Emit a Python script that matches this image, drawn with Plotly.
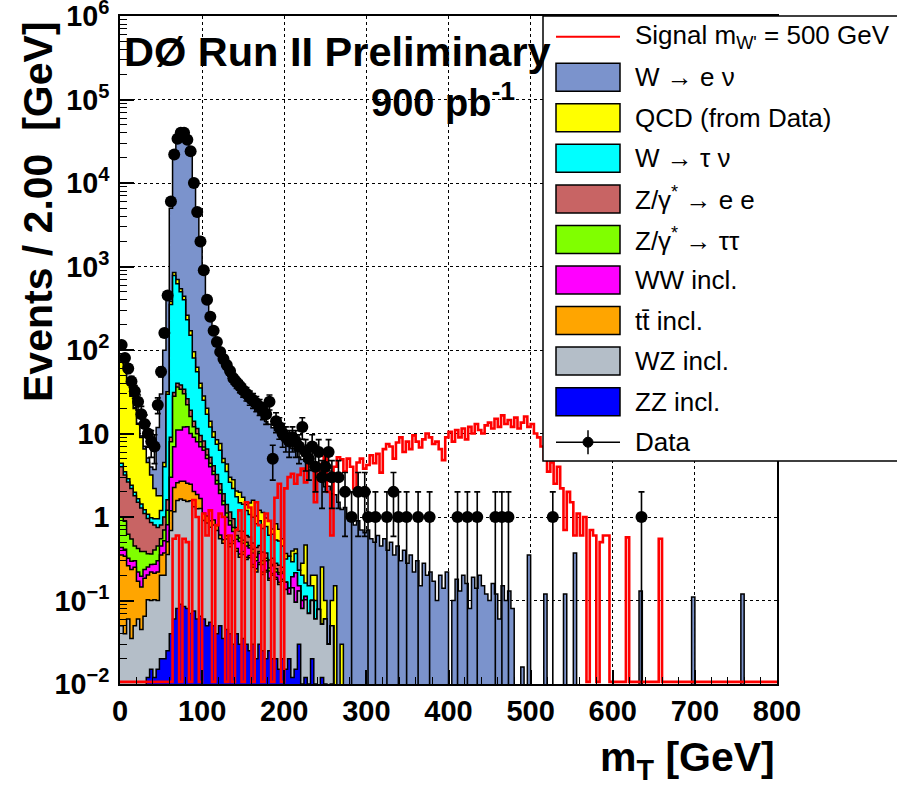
import numpy as np
import plotly.graph_objects as go

# ---------------- data (per 4 GeV bin, values on the "Events / 2 GeV" scale) ----------------
BIN = 4.0
NBINS = 200  # 0 .. 800 GeV

zz = [0, 0, 0, 0, 0, 0, 0, 0, 0.012, 0.015,
      0.012, 0.015, 0.02, 0.02, 0.025, 0.04, 0.06, 0.08, 0.09, 0.085,
      0.08, 0.07, 0.075, 0.06, 0.065, 0.06, 0.05, 0.055, 0.05, 0.04,
      0.05, 0.035, 0.045, 0.04, 0.03, 0.04, 0.03, 0.035, 0.03, 0.025,
      0.03, 0.02, 0.03, 0.025, 0.02, 0.025, 0.02, 0.02, 0.015, 0.02,
      0.015, 0.02, 0.012, 0.015, 0.03, 0.01, 0.012, 0.01, 0.02, 0.01,
      0.008, 0.012, 0.01, 0, 0.01]

wz = [0.05, 0.04, 0.06, 0.035, 0.05, 0.06, 0.045, 0.065, 0.09, 0.085,
      0.09, 0.085, 0.18, 0.18, 0.33, 0.65, 1.1, 1.5, 1.55, 1.5,
      1.45, 1.5, 1.25, 1.2, 1.2, 0.85, 0.8, 0.7, 0.75, 0.65,
      0.5, 0.45, 0.5, 0.4, 0.45, 0.35, 0.3, 0.32, 0.28, 0.3,
      0.22, 0.2, 0.24, 0.18, 0.2, 0.15, 0.18, 0.16, 0.14, 0.15,
      0.12, 0.1, 0.13, 0.08, 0.1, 0.07, 0.09, 0.06, 0.08, 0.05,
      0.07, 0.04, 0.05, 0.03, 0.04]

ttbar = [0.3, 0.3, 0.2, 0.2, 0.2, 0.11, 0.1, 0.12, 0.1, 0.12,
         0.11, 0.12, 0.15, 0.17, 0.15, 0.5, 1.1, 1.0, 1.05, 1.1,
         1.0, 0.9, 0.7, 0.6, 0.4, 0.2, 0.18, 0.15, 0.12, 0.1,
         0.06, 0.05, 0.05, 0.04, 0.04, 0.03, 0.03, 0.03, 0.02, 0.02,
         0.02, 0.02, 0.015, 0.015, 0.01, 0.01, 0.01, 0.01, 0.01, 0.01]

ww = [0.08, 0.07, 0.06, 0.06, 0.05, 0.05, 0.05, 0.05, 0.05, 0.05,
      0.06, 0.08, 0.1, 0.15, 0.3, 1.8, 4.7, 8.4, 8.3, 9.3,
      9.5, 7.5, 7.0, 6.1, 5.3, 5.2, 4.0, 3.1, 2.3, 1.7,
      1.3, 0.87, 0.4, 0.32, 0.15, 0.12, 0.15, 0.1, 0.12, 0.08,
      0.1, 0.06, 0.08, 0.05, 0.07, 0.04, 0.05, 0.03, 0.04, 0.03,
      0.03, 0.02, 0.05, 0.12, 0.02, 0.02, 0.01]

ztautau = [0.57, 0.48, 0.3, 0.25, 0.15, 0.2, 0.19, 0.15, 0.11, 0.09,
           0.13, 0.15, 0.1, 0.18, 0.4, 5, 21, 25, 23, 18,
           10, 6, 3, 2, 1, 0.6, 0.5, 0.4, 0.3, 0.25,
           0.2, 0.15, 0.12, 0.1, 0.08, 0.06, 0.05, 0.04, 0.05, 0.03,
           0.04, 0.03, 0.02, 0.03, 0.02, 0.02, 0.01, 0.02, 0.01, 0.01]

zee = [3.0, 2.3, 2.0, 1.65, 1.35, 1.08, 0.9, 0.72, 0.6, 0.5,
       0.4, 0.3, 0.25, 0.3, 0.4, 1.0, 3, 4, 4, 4,
       4, 3, 2, 1.5, 1.5, 1.2, 1.0, 0.8, 0.6, 0.5,
       0.4, 0.35, 0.3, 0.25, 0.2, 0.15, 0.12, 0.15, 0.1, 0.12,
       0.08, 0.1, 0.07, 0.08, 0.05, 0.06, 0.05, 0.04, 0.05, 0.03]

wtaunu = [0.4, 0.3, 0.25, 0.2, 0.18, 0.15, 0.15, 0.12, 0.12, 0.12,
          0.15, 0.2, 0.4, 3, 28, 341, 749, 580, 462, 366,
          204, 131, 66, 43.5, 25.5, 17, 10.5, 6.8, 4.9, 4.2,
          3.8, 2.6, 2.1, 1.45, 1.25, 1.0, 0.8, 0.75, 0.6, 0.5,
          0.5, 0.4, 0.45, 0.35, 0.4, 0.3, 0.3, 0.25, 0.25, 0.2,
          0.15, 0.2, 0.1, 0.15, 0.08, 0.1, 0.05, 0.08, 0.05, 0.04]

qcd = [75, 56, 42, 25.6, 18, 11.3, 7.5, 5.3, 3.4, 2.2,
       1.25, 0.85, 0.6, 0.5, 2, 30, 70, 80, 40, 40,
       30, 20, 15, 7, 5, 3, 3, 2, 1.5, 1,
       1.3, 0.5, 0.8, 0.4, 0.6, 0.3, 0.5, 0.3, 0.2, 0.4,
       0.6, 0.2, 0.3, 0.4, 0.2, 0.3, 0.1, 0.3, 0.2, 0.1,
       0.05, 0, 0.1, 0.05, 0, 0.08, 0.3, 0, 0.05, 0.1,
       0, 0.2, 0.04, 0, 0.05, 0.15, 0, 0.03]

wenu = [0.3, 0.3, 0.3, 0.3, 0.3, 0.3, 0.4, 0.5, 0.6, 0.8,
        1.5, 10, 28, 95, 390, 4600, 21000, 31300, 36000, 36500,
        32700, 22800, 9400, 3940, 1760, 822, 360, 216, 144, 106,
        80, 67, 56, 48, 40, 34.5, 31, 27, 24.5, 21.5,
        19.5, 17.5, 15.5, 14, 13, 12, 11, 10, 9, 8.3,
        7.5, 7.0, 6.2, 5.8, 5.0, 4.6, 4.2, 3.5, 3.4, 3.0,
        2.8, 2.4, 2.2, 2.3, 1.8, 1.7, 1.5, 1.2, 1.3, 1.0,
        1.1, 0.8, 0.9, 0.7, 0.65, 0.7, 0.55, 0.5, 0.6, 0.45,
        0.55, 0.4, 0.5, 0.35, 0.45, 0.3, 0.4, 0.28, 0.35, 0.22,
        0.3, 0.15, 0.28, 0.2, 0.22, 0.17, 0.1, 0.2, 0.14, 0.22,
        0, 0.1, 0.18, 0.13, 0.2, 0.16, 0.08, 0.19, 0.14, 0.2,
        0.15, 0.12, 0.1, 0.16, 0.12, 0.06, 0.15, 0.1, 0.13, 0.08]
wenu_sparse_mt = [490, 498, 518, 542, 554, 634, 698, 758]
wenu_sparse_val = [0.016, 0.35, 0.12, 0.12, 0.37, 0.13, 0.11, 0.12]

signal = [0, 0, 0, 0, 0, 0, 0, 0, 0, 0,
          0, 0, 0, 0, 0, 0, 0.55, 0.6, 0, 0.55,
          0.5, 0, 1.6, 1.0, 0, 1.1, 0.6, 1.2, 0, 0.8,
          1.1, 1.0, 0, 0.6, 0, 0.7, 1.2, 0, 1.5, 1.3,
          0, 1.5, 0.8, 0, 1.1, 0.9, 0, 1.7, 2.5, 0,
          2.2, 3.0, 3.3, 2.5, 3.2, 3.8, 2.6, 4.5, 4.0, 1.5,
          4.3, 3.0, 5.3, 2.0, 0.6, 4.0, 5.2, 4.9, 3.5, 5.0,
          4.0, 2.2, 4.5, 5.0, 3.8, 4.2, 5.5, 4.4, 5.7, 3.4,
          6.5, 7.5, 7.0, 5.0, 7.8, 9.0, 6.0, 8.0, 6.5, 9.5,
          8.0, 6.8, 8.5, 10.0, 9.0, 7.5, 8.0, 6.5, 4.8, 9.0,
          10.5, 8.0, 11.0, 9.0, 11.5, 8.5, 12.0, 10.0, 13.0, 11.0,
          10.0, 12.5, 13.5, 11.5, 15.0, 12.0, 16.5, 13.0, 14.5, 12.0,
          15.5, 11.5, 13.5, 16.0, 12.0, 13.0, 10.0, 9.0, 7.0, 5.0,
          3.5, 4.5, 2.5, 4.0, 2.2, 0.7, 2.0, 1.5, 0.6, 1.1,
          0.6, 1.0, 0, 0.7, 0.6, 0, 0.5, 0.6, 0.6, 0,
          0, 0, 0, 0, 0.57, 0, 0, 0, 0, 0,
          0, 0, 0, 0, 0.55]

data_dense = [115, 80, 60, 42, 32, 24, 17, 13, 10, 8,
              7, 22, 55, 160, 450, 6000, 22000, 34000, 40000, 40000,
              33000, 24000, 10000, 4500, 2000, 900, 400, 250, 170, 125,
              95, 78, 66, 56, 46, 41, 37, 33, 30, 27,
              25, 23, 21, 19, 17, 24, 5, 14, 12, 10,
              9, 8, 9, 8, 7, 12, 6, 5, 7, 4,
              6, 3, 4, 6, 3]
data_sparse_mt = [266, 274, 282, 290, 298, 302, 311, 325, 333, 339, 349,
                  363, 377, 411, 423, 435, 457, 465, 473, 527, 635]
data_sparse_n = [3, 2, 1, 2, 2, 1, 1, 1, 2, 1, 1,
                 1, 1, 1, 1, 1, 1, 1, 1, 1, 1]

# stack, bottom -> top
stack = [
    ("ZZ incl.", zz, "#0000ff"),
    ("WZ incl.", wz, "#b4bec8"),
    ("tt\u0304 incl.", ttbar, "#ffa500"),
    ("WW incl.", ww, "#ff00ff"),
    ("Z/\u03b3<sup>*</sup> \u2192 \u03c4\u03c4", ztautau, "#80ff00"),
    ("Z/\u03b3<sup>*</sup> \u2192 e e", zee, "#c86464"),
    ("W \u2192 \u03c4 \u03bd", wtaunu, "#00ffff"),
    ("QCD (from Data)", qcd, "#ffff00"),
    ("W \u2192 e \u03bd", wenu, "#7b93cc"),
]


def padded(vals, sparse_mt=(), sparse_val=()):
    arr = np.zeros(NBINS)
    arr[:len(vals)] = vals
    for m, v in zip(sparse_mt, sparse_val):
        arr[int(m // BIN)] += v
    return arr


edges = np.arange(NBINS + 1) * BIN
OFF = 1e-4          # below the visible range: empty bins drop to the frame bottom
SIG_FLOOR = 0.0106  # empty signal bins run along the bottom of the frame

layers = []
cum = np.zeros(NBINS)
for name, vals, col in stack:
    extra = (wenu_sparse_mt, wenu_sparse_val) if vals is wenu else ((), ())
    cum = cum + padded(vals, *extra)
    layers.append((name, cum.copy(), col))

fig = go.Figure()

# filled stacked histograms, largest first
for name, c, col in reversed(layers):
    y = np.where(c > 0, c, OFF)
    ys = np.concatenate([y, [y[-1], OFF, OFF]])
    xs = np.concatenate([edges, [edges[-1], edges[0]]])
    fig.add_trace(go.Scatter(
        x=xs, y=ys, mode="lines", fill="toself", fillcolor=col,
        line=dict(shape="hv", color="black", width=1.5),
        hoverinfo="skip", showlegend=False))

# signal
sig = padded(signal)
sig_y = np.where(sig > 0, sig, SIG_FLOOR)
fig.add_trace(go.Scatter(
    x=edges, y=np.append(sig_y, sig_y[-1]), mode="lines",
    line=dict(shape="hv", color="#ff0000", width=2.6),
    hoverinfo="skip", showlegend=False))

# data
d_mt = np.concatenate([(np.arange(len(data_dense)) + 0.5) * BIN, data_sparse_mt])
d_n = np.concatenate([data_dense, data_sparse_n]).astype(float)
err_up = np.sqrt(d_n)
err_dn = np.minimum(np.sqrt(d_n), d_n - OFF)
fig.add_trace(go.Scatter(
    x=d_mt, y=d_n, mode="markers",
    marker=dict(symbol="circle", size=12, color="black"),
    error_y=dict(type="data", symmetric=False, array=err_up, arrayminus=err_dn,
                 color="black", thickness=1.6, width=3),
    hoverinfo="skip", showlegend=False))

# ---------------- layout ----------------
W, H = 897, 792
ML, MR, MT, MB = 120, 120, 16, 108
PW, PH = W - ML - MR, H - MT - MB


def px(xp):
    return (xp - ML) / PW


def py(yp):
    return (H - MB - yp) / PH


TXT = "Liberation Sans, Arial, Helvetica, sans-serif"

fig.update_layout(
    width=W, height=H,
    margin=dict(l=ML, r=MR, t=MT, b=MB, autoexpand=False),
    paper_bgcolor="white", plot_bgcolor="white",
    showlegend=False,
)
fig.update_xaxes(
    range=[0, 800], tick0=0, dtick=100, automargin=False,
    ticks="inside", ticklen=14, tickwidth=1.5, tickcolor="black",
    minor=dict(dtick=20, ticks="inside", ticklen=7, tickwidth=1.2,
               tickcolor="black", showgrid=False),
    showgrid=True, gridcolor="black", griddash="dot", gridwidth=1,
    showline=True, linecolor="black", linewidth=2, mirror=True,
    zeroline=False, ticklabelstandoff=0, ticklabeloverflow="allow",
    tickfont=dict(family=TXT, size=29, color="black", weight="bold"),
)
fig.update_yaxes(
    type="log", range=[-2, 6.0004], dtick=1, exponentformat="power",
    automargin=False,
    ticks="inside", ticklen=14, tickwidth=1.5, tickcolor="black",
    minor=dict(ticks="inside", ticklen=7, tickwidth=1.2, tickcolor="black",
               showgrid=False),
    showgrid=True, gridcolor="black", griddash="dot", gridwidth=1,
    showline=True, linecolor="black", linewidth=2, mirror=True,
    zeroline=False, ticklabelstandoff=4, ticklabeloverflow="allow",
    tickfont=dict(family=TXT, size=23, color="black", weight="bold"),
)

shapes = []
annotations = []

# texts on the plot
annotations.append(dict(
    text="D\u00d8 Run II Preliminary", xref="paper", yref="paper",
    x=px(122), y=py(52), xanchor="left", yanchor="middle", showarrow=False,
    font=dict(family=TXT, size=41.5, color="black", weight="bold")))
annotations.append(dict(
    text="900 pb<sup>-1</sup>", xref="paper", yref="paper",
    x=px(517), y=py(100), xanchor="right", yanchor="middle", showarrow=False,
    font=dict(family=TXT, size=38, color="black", weight="bold")))
annotations.append(dict(
    text="Events / 2.00 \u00a0[GeV]", xref="paper", yref="paper",
    x=px(38), y=py(212), xanchor="center", yanchor="middle", textangle=-90,
    showarrow=False, font=dict(family=TXT, size=41, color="black", weight="bold")))
annotations.append(dict(
    text="m<sub>T</sub> [GeV]", xref="paper", yref="paper",
    x=px(777), y=py(760), xanchor="right", yanchor="middle", showarrow=False,
    font=dict(family=TXT, size=41, color="black", weight="bold")))

# legend box
shapes.append(dict(type="rect", xref="paper", yref="paper",
                   x0=px(543), x1=px(899), y0=py(461), y1=py(16),
                   fillcolor="white", line=dict(color="black", width=1.5),
                   layer="above"))

row_y = [36.7 + 40.55 * k for k in range(11)]
entries = [("Signal m<sub>W'</sub> = 500 GeV", None)] + \
          [(name, col) for name, _, col in reversed(layers)] + [("Data", "data")]
for (label, col), yc in zip(entries, row_y):
    if col is None:
        shapes.append(dict(type="line", xref="paper", yref="paper",
                           x0=px(556), x1=px(620), y0=py(yc), y1=py(yc),
                           line=dict(color="#ff0000", width=2), layer="above"))
    elif col == "data":
        shapes.append(dict(type="line", xref="paper", yref="paper",
                           x0=px(556), x1=px(620), y0=py(yc), y1=py(yc),
                           line=dict(color="black", width=1.5), layer="above"))
        shapes.append(dict(type="line", xref="paper", yref="paper",
                           x0=px(588), x1=px(588), y0=py(yc - 12), y1=py(yc + 12),
                           line=dict(color="black", width=1.5), layer="above"))
        shapes.append(dict(type="circle", xref="paper", yref="paper",
                           x0=px(583), x1=px(593), y0=py(yc + 5), y1=py(yc - 5),
                           fillcolor="black", line=dict(color="black", width=1),
                           layer="above"))
    else:
        shapes.append(dict(type="rect", xref="paper", yref="paper",
                           x0=px(556), x1=px(620), y0=py(yc + 14), y1=py(yc - 14),
                           fillcolor=col, line=dict(color="black", width=1.5),
                           layer="above"))
    annotations.append(dict(
        text=label, xref="paper", yref="paper", x=px(633), y=py(yc),
        xanchor="left", yanchor="middle", showarrow=False,
        font=dict(family=TXT, size=26, color="black")))

fig.update_layout(shapes=shapes, annotations=annotations)

fig.write_html("out.html")
